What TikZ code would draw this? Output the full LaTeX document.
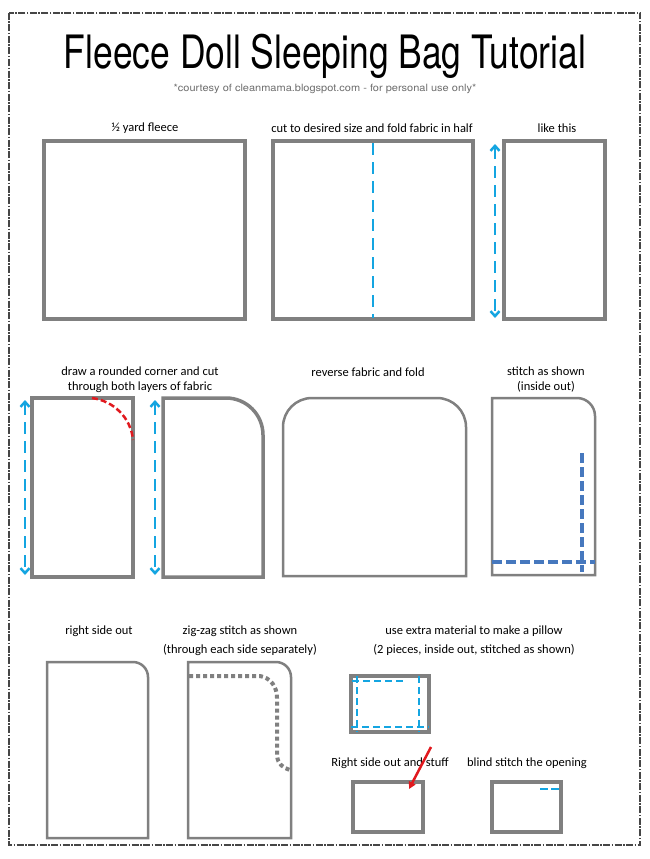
\documentclass[tikz,border=0pt]{standalone}
\usepackage{fontspec}
\setmainfont{Carlito}
\newfontfamily\titlefont{TeX Gyre Heros}
\usetikzlibrary{arrows.meta}
\definecolor{fabric}{RGB}{128,128,128}
\definecolor{cyanb}{RGB}{20,165,225}
\definecolor{stitchblue}{RGB}{70,120,190}
\definecolor{redcut}{RGB}{225,25,30}
\definecolor{framegray}{RGB}{70,70,70}
\definecolor{subgray}{RGB}{110,110,110}
\tikzset{
  lbl/.style={font=\fontsize{12.5}{15}\selectfont, text=black, inner sep=0pt, align=center},
  lblwide/.style={font=\fontsize{12.5}{19}\selectfont, text=black, inner sep=0pt, align=center},
  thickbox/.style={draw=fabric, line width=3.5pt},
  thinbox/.style={draw=fabric, line width=2.5pt},
  pillowbox/.style={draw=fabric, line width=4pt},
  foldarrow/.style={draw=cyanb, line width=2.5pt, dash pattern=on 12pt off 7pt,
     {Straight Barb[length=5pt,width=9pt]}-{Straight Barb[length=5pt,width=9pt]}},
  foldline/.style={draw=cyanb, line width=2.5pt, dash pattern=on 12pt off 7pt},
  seam/.style={draw=stitchblue, line width=4pt, dash pattern=on 10pt off 4pt},
  pillowseam/.style={draw=cyanb, line width=2pt, dash pattern=on 7pt off 4pt},
  zigzag/.style={draw=fabric, line width=4pt, dash pattern=on 4pt off 3pt},
  cutline/.style={draw=redcut, line width=2.5pt, dash pattern=on 6pt off 3pt}
}
\begin{document}
\begin{tikzpicture}[x=1pt,y=1pt]
\useasboundingbox (0,0) rectangle (649,-859);
\fill[white] (0,0) rectangle (649,-859);
% frame
\draw[framegray, line width=1.5pt, dash pattern=on 7pt off 1.5pt on 1.5pt off 1.5pt] (9,-13) rectangle (640,-845);
% title
\node[font=\titlefont\fontsize{46}{50}\selectfont, xscale=0.77, inner sep=0pt, anchor=base] (title) at (325,-68) {Fleece Doll Sleeping Bag Tutorial};
\node[font=\titlefont\fontsize{10}{12}\selectfont, xscale=1.1, text=subgray, inner sep=0pt] (sub) at (325,-89) {*courtesy of cleanmama.blogspot.com - for personal use only*};

% row 1
\node[lbl] (l1) at (145,-128) {½ yard fleece};
\draw[thickbox] (44,-141) rectangle (245,-319);
\node[lbl] (l2) at (372,-128) {cut to desired size and fold fabric in half};
\draw[thickbox] (273,-141) rectangle (473,-319);
\draw[foldline] (373,-143) -- (373,-318);
\node[lbl] (l3) at (557,-128) {like this};
\draw[thickbox] (504,-141) rectangle (605,-319);
\draw[foldarrow] (495,-144) -- (495,-318);

% row 2
\node[lbl] (l4) at (140,-380) {draw a rounded corner and cut\\through both layers of fabric};
\draw[thickbox] (32,-398) rectangle (133,-577);
\draw[cutline] (92,-398) .. controls (114,-401) and (131,-418) .. (133,-440);
\draw[foldarrow] (25,-400) -- (25,-575);
\draw[thickbox] (163,-577) -- (163,-398) -- (226,-398) arc[start angle=90,end angle=0,radius=37pt] -- (263,-577) -- cycle;
\draw[foldarrow] (155,-400) -- (155,-575);
\node[lbl] (l5) at (368,-372) {reverse fabric and fold};
\draw[thinbox] (283,-576) -- (283,-427) arc[start angle=180,end angle=90,radius=29pt] -- (437,-398) arc[start angle=90,end angle=0,radius=29pt] -- (466,-576) -- cycle;
\node[lbl] (l6) at (546,-380) {stitch as shown\\(inside out)};
\draw[thinbox] (492,-575) -- (492,-398) -- (577,-398) arc[start angle=90,end angle=0,radius=18pt] -- (595,-575) -- cycle;
\draw[seam] (582,-453) -- (582,-572);
\draw[seam] (492,-562) -- (595,-562);

% row 3
\node[lbl] (l7) at (99,-631) {right side out};
\draw[thinbox] (47,-838) -- (47,-662) -- (133,-662) arc[start angle=90,end angle=0,radius=15pt] -- (148,-838) -- cycle;
\node[lblwide] (l8) at (240,-640.5) {zig-zag stitch as shown\\(through each side separately)};
\draw[thinbox] (188,-838) -- (188,-662) -- (276,-662) arc[start angle=90,end angle=0,radius=15pt] -- (291,-838) -- cycle;
\draw[zigzag] (189,-676) -- (260,-676) .. controls (271,-678) and (277,-687) .. (277,-698) -- (277,-756) .. controls (278,-764) and (283,-768) .. (290,-770);

\node[lblwide] (l9) at (474,-640.5) {use extra material to make a pillow\\(2 pieces, inside out, stitched as shown)};
\draw[pillowbox] (351,-676) rectangle (429,-732);
\draw[pillowseam] (352,-681) -- (405,-681);
\draw[pillowseam] (351,-727) -- (429,-727);
\draw[pillowseam] (357,-676) -- (357,-732);
\draw[pillowseam] (419,-676) -- (419,-732);

\node[lbl] (l10) at (390,-763) {Right side out and stuff};
\draw[pillowbox] (353,-782) rectangle (423,-832);
\coordinate (arrowstart) at (431,-747);
\coordinate (arrowend) at (409,-789);
\draw[redcut, line width=2.5pt, -{Triangle[length=7pt,width=7pt]}] (arrowstart) -- (arrowend);

\node[lbl] (l11) at (527,-763) {blind stitch the opening};
\draw[pillowbox] (492,-782) rectangle (561,-832);
\draw[pillowseam, dash pattern=on 8pt off 3pt] (540,-789) -- (561,-789);
\end{tikzpicture}
\end{document}
